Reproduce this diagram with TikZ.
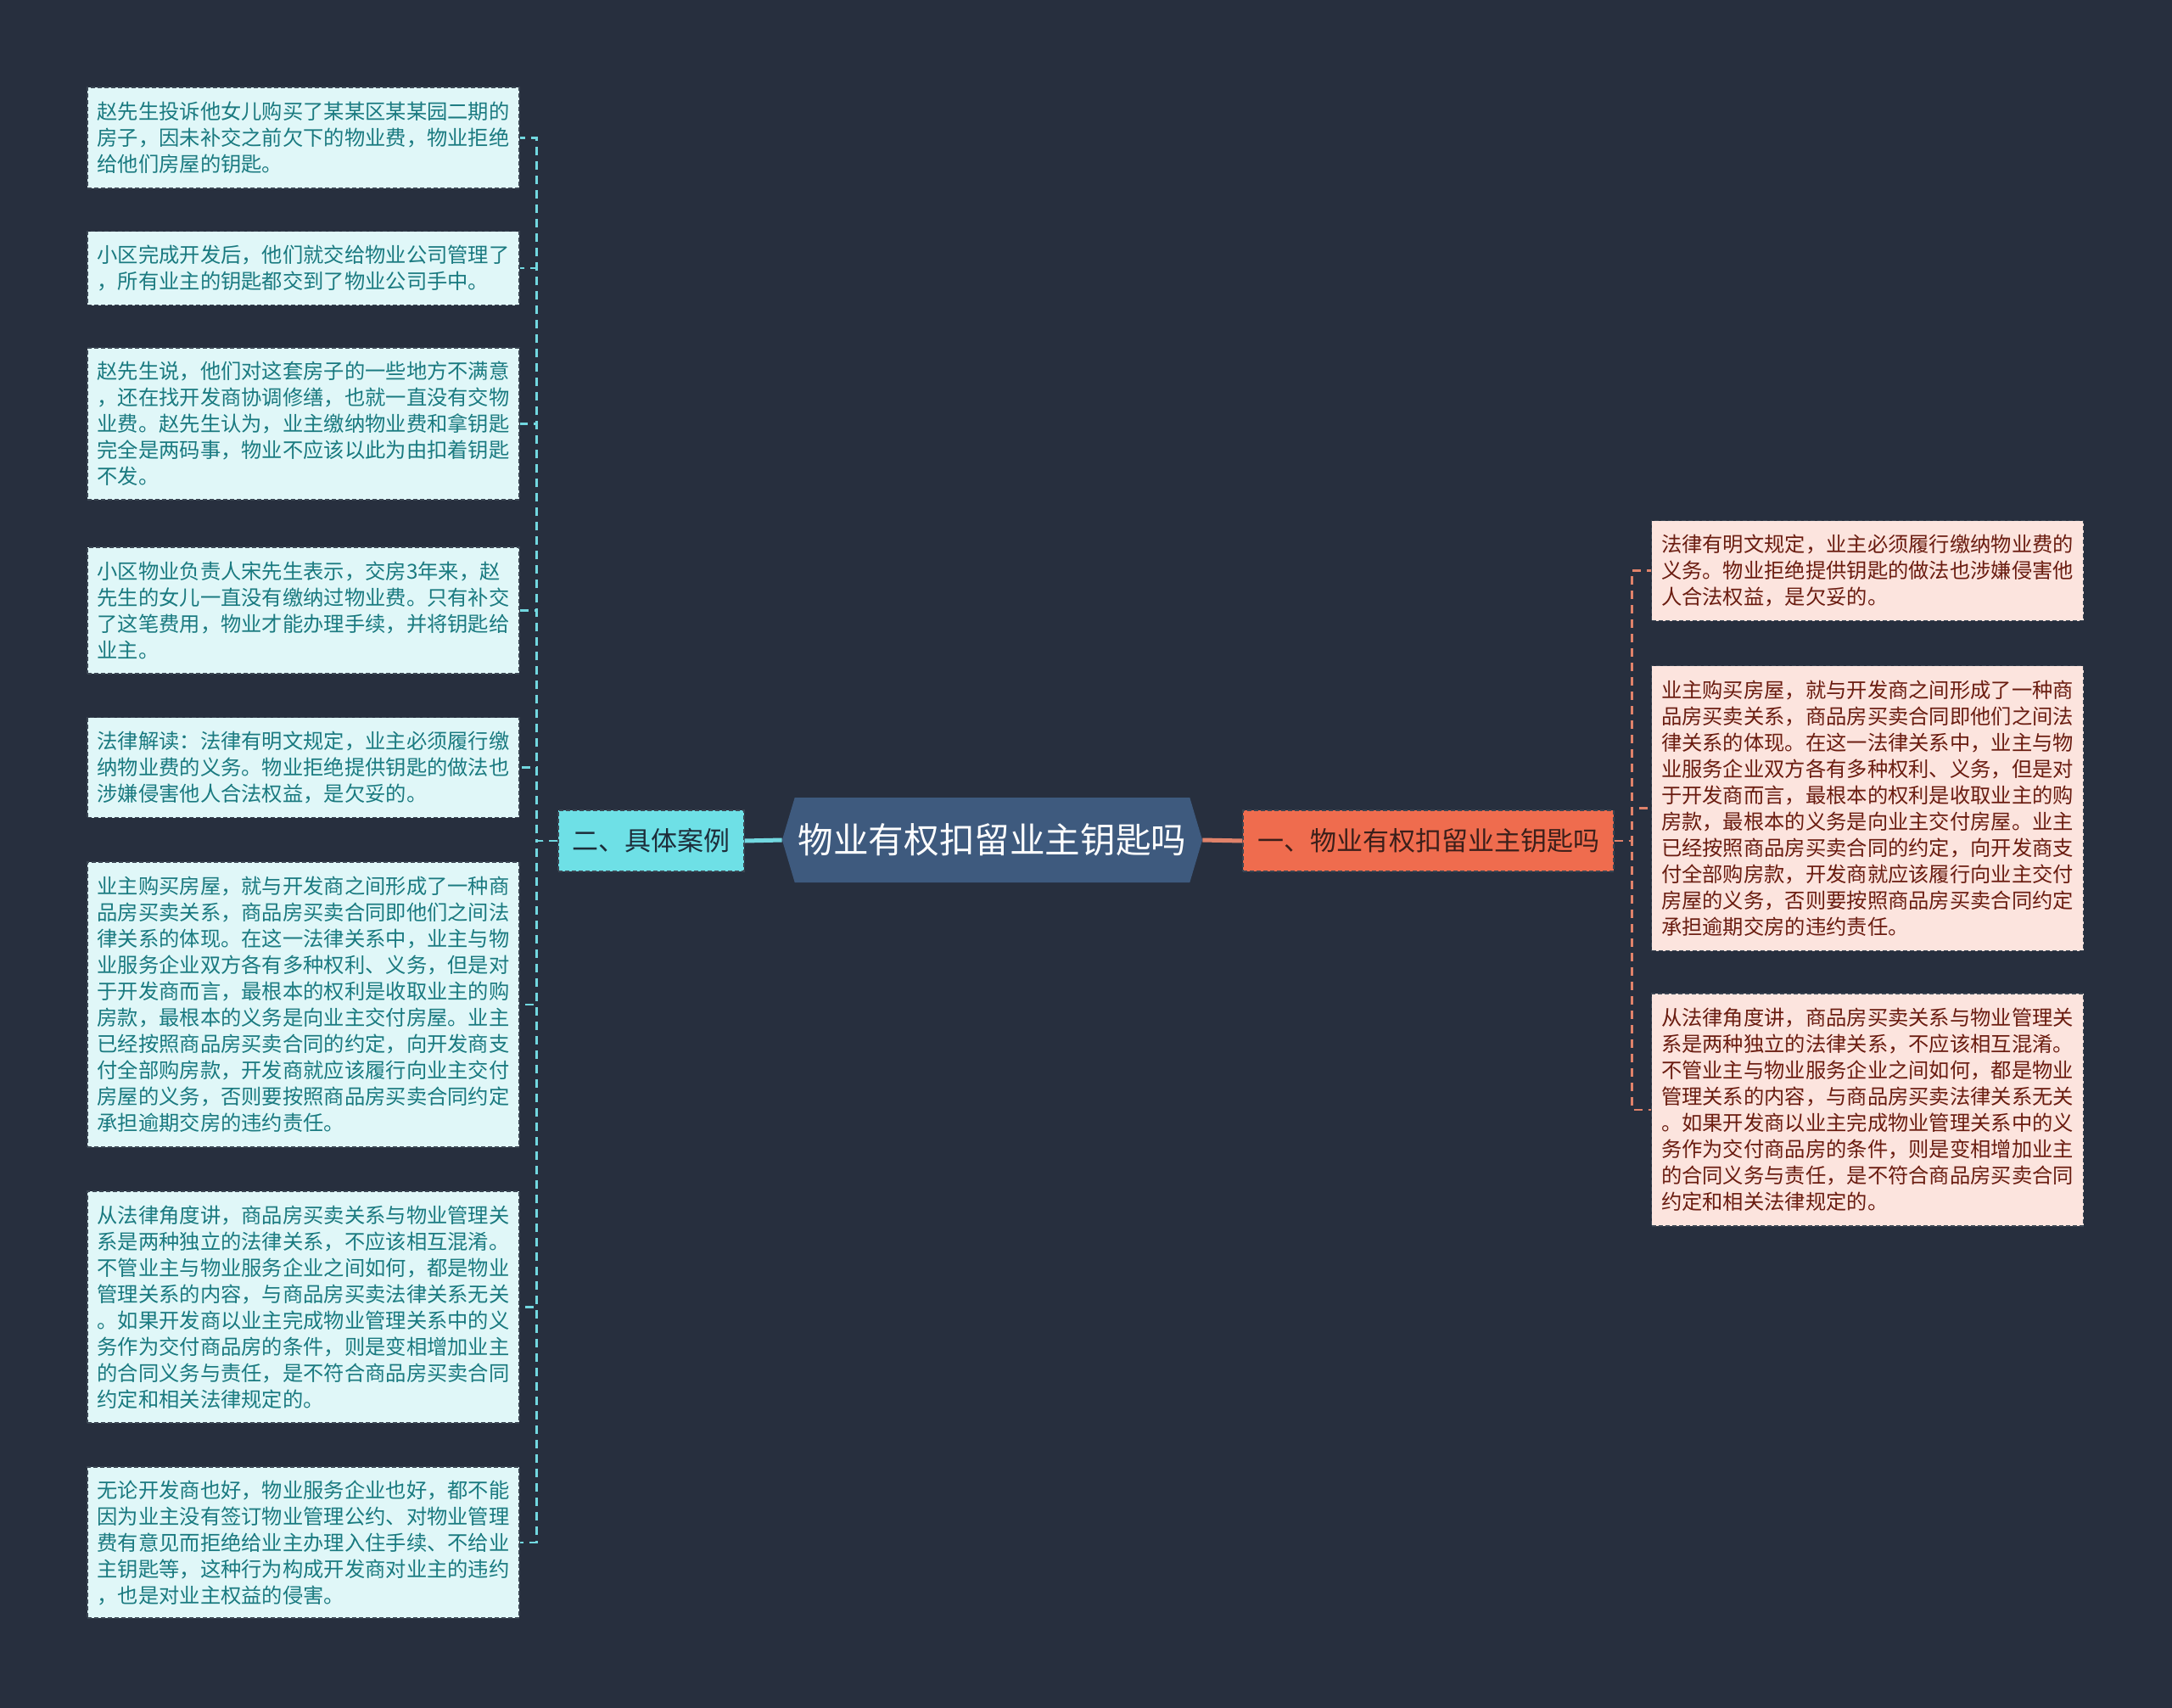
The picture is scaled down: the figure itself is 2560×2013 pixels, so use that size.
\documentclass[tikz,border=0pt]{standalone}
\usepackage{fontspec}
\setmainfont{Noto Sans CJK SC}
\usetikzlibrary{shapes.symbols}
\definecolor{bgdark}{HTML}{272F3E}
\definecolor{rootblue}{HTML}{3E5A7E}
\definecolor{catcyan}{HTML}{6EE0E6}
\definecolor{catcoral}{HTML}{EF6C4E}
\definecolor{cyantext}{HTML}{1D2D3A}
\definecolor{coraltext}{HTML}{3B1F1A}
\definecolor{leftfill}{HTML}{E0F7F8}
\definecolor{lefttext}{HTML}{1A7A80}
\definecolor{rightfill}{HTML}{FCE4DE}
\definecolor{righttext}{HTML}{6A1C10}
\definecolor{cyanline}{HTML}{72D8E0}
\definecolor{coralline}{HTML}{E0826A}
\definecolor{boxedge}{HTML}{3A4552}

\tikzset{
  leafbox/.style={draw=boxedge, line width=1.3pt, dash pattern={on 5pt off 3pt},
    align=left, minimum width=509, inner xsep=11, inner ysep=0,
    font=\fontsize{24.3}{31}\selectfont},
  leftbox/.style={leafbox, fill=leftfill, text=lefttext},
  rightbox/.style={leafbox, fill=rightfill, text=righttext},
  catbox/.style={draw=boxedge, line width=1.3pt, dash pattern={on 5pt off 3pt},
    minimum height=72, inner xsep=10, font=\fontsize{31}{36}\selectfont},
  rootnode/.style={signal, signal to=west and east, signal pointer angle=147,
    fill=rootblue, text=white, minimum width=495, minimum height=100,
    inner xsep=4, font=\fontsize{41.6}{48}\selectfont},
  leftline/.style={cyanline, line width=2.5pt, dash pattern={on 10pt off 7pt}},
  rightline/.style={coralline, line width=2.5pt, dash pattern={on 10pt off 7pt}}
}

\begin{document}
\begin{tikzpicture}[x=1pt,y=1pt,yscale=-1]
	% background
	\fill [bgdark] (0,0) rectangle (2560,2013);
	\useasboundingbox (0,0) rectangle (2560,2013);
	
	% Root
	\node [rootnode] (root) at (1169.5,990) {物业有权扣留业主钥匙吗};
	% Categories
	\node [catbox, fill=catcyan, text=cyantext, minimum width=219] (cat2) at (767.5,991) {二、具体案例};
	\node [catbox, fill=catcoral, text=coraltext, minimum width=437] (cat1) at (1683.5,991) {一、物业有权扣留业主钥匙吗};
	
	% Left leaves
	\node [leftbox, minimum height=119] (l1) at (357.5,162.5) {赵先生投诉他女儿购买了某某区某某园二期的\\房子，因未补交之前欠下的物业费，物业拒绝\\给他们房屋的钥匙。};
	\node [leftbox, minimum height=87] (l2) at (357.5,316) {小区完成开发后，他们就交给物业公司管理了\\，所有业主的钥匙都交到了物业公司手中。};
	\node [leftbox, minimum height=179] (l3) at (357.5,499.5) {赵先生说，他们对这套房子的一些地方不满意\\，还在找开发商协调修缮，也就一直没有交物\\业费。赵先生认为，业主缴纳物业费和拿钥匙\\完全是两码事，物业不应该以此为由扣着钥匙\\不发。};
	\node [leftbox, minimum height=149] (l4) at (357.5,719.5) {小区物业负责人宋先生表示，交房3年来，赵\\先生的女儿一直没有缴纳过物业费。只有补交\\了这笔费用，物业才能办理手续，并将钥匙给\\业主。};
	\node [leftbox, minimum height=118] (l5) at (357.5,904.5) {法律解读：法律有明文规定，业主必须履行缴\\纳物业费的义务。物业拒绝提供钥匙的做法也\\涉嫌侵害他人合法权益，是欠妥的。};
	\node [leftbox, minimum height=336] (l6) at (357.5,1184) {业主购买房屋，就与开发商之间形成了一种商\\品房买卖关系，商品房买卖合同即他们之间法\\律关系的体现。在这一法律关系中，业主与物\\业服务企业双方各有多种权利、义务，但是对\\于开发商而言，最根本的权利是收取业主的购\\房款，最根本的义务是向业主交付房屋。业主\\已经按照商品房买卖合同的约定，向开发商支\\付全部购房款，开发商就应该履行向业主交付\\房屋的义务，否则要按照商品房买卖合同约定\\承担逾期交房的违约责任。};
	\node [leftbox, minimum height=273] (l7) at (357.5,1540.5) {从法律角度讲，商品房买卖关系与物业管理关\\系是两种独立的法律关系，不应该相互混淆。\\不管业主与物业服务企业之间如何，都是物业\\管理关系的内容，与商品房买卖法律关系无关\\。如果开发商以业主完成物业管理关系中的义\\务作为交付商品房的条件，则是变相增加业主\\的合同义务与责任，是不符合商品房买卖合同\\约定和相关法律规定的。};
	\node [leftbox, minimum height=178] (l8) at (357.5,1818) {无论开发商也好，物业服务企业也好，都不能\\因为业主没有签订物业管理公约、对物业管理\\费有意见而拒绝给业主办理入住手续、不给业\\主钥匙等，这种行为构成开发商对业主的违约\\，也是对业主权益的侵害。};
	
	% Right leaves
	\node [rightbox, minimum height=118] (r1) at (2201,672.5) {法律有明文规定，业主必须履行缴纳物业费的\\义务。物业拒绝提供钥匙的做法也涉嫌侵害他\\人合法权益，是欠妥的。};
	\node [rightbox, minimum height=336] (r2) at (2201,952.5) {业主购买房屋，就与开发商之间形成了一种商\\品房买卖关系，商品房买卖合同即他们之间法\\律关系的体现。在这一法律关系中，业主与物\\业服务企业双方各有多种权利、义务，但是对\\于开发商而言，最根本的权利是收取业主的购\\房款，最根本的义务是向业主交付房屋。业主\\已经按照商品房买卖合同的约定，向开发商支\\付全部购房款，开发商就应该履行向业主交付\\房屋的义务，否则要按照商品房买卖合同约定\\承担逾期交房的违约责任。};
	\node [rightbox, minimum height=274] (r3) at (2201,1308) {从法律角度讲，商品房买卖关系与物业管理关\\系是两种独立的法律关系，不应该相互混淆。\\不管业主与物业服务企业之间如何，都是物业\\管理关系的内容，与商品房买卖法律关系无关\\。如果开发商以业主完成物业管理关系中的义\\务作为交付商品房的条件，则是变相增加业主\\的合同义务与责任，是不符合商品房买卖合同\\约定和相关法律规定的。};
	
	% Root to categories
	\draw [cyanline, line width=5pt] (root.west) -- (cat2.east);
	\draw [coralline, line width=5pt] (root.east) -- (cat1.west);
	
	% Category to leaves
	\foreach \k in {1,...,8}
		\draw [leftline] (cat2.west) -- ++(-25,0) |- (l\k.east);
	\foreach \k in {1,2,3}
		\draw [rightline] (cat1.east) -- ++(21,0) |- (r\k.west);
	
\end{tikzpicture}
\end{document}
